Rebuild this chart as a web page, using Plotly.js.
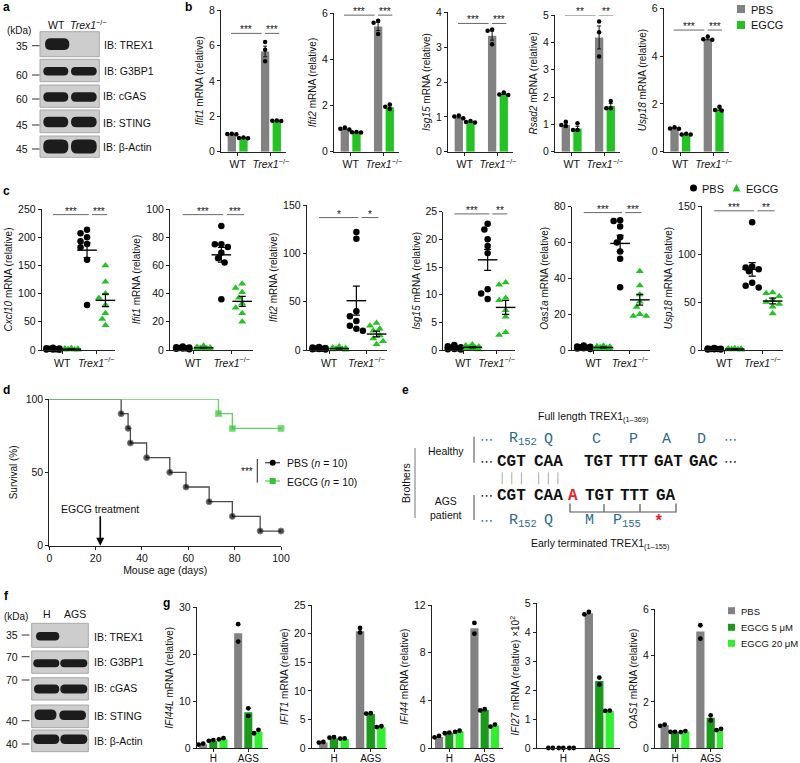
<!DOCTYPE html>
<html><head><meta charset="utf-8">
<script src="https://cdn.plot.ly/plotly-3.0.1.min.js"></script>
<style>html,body{margin:0;padding:0;background:#fff}#chart{width:800px;height:763px}</style>
</head><body><div id="chart"></div>
<script>
// ================= DATA =================
// Panel b : bar = mean, error = SEM, dots = replicates
// order inside each array: [WT PBS, WT EGCG, Trex1 PBS, Trex1 EGCG]
const bGenes = ['Ifit1', 'Ifit2', 'Isg15', 'Rsad2', 'Usp18'];
const bGroupLabels = ['WT', '<i>Trex1</i><sup>−/−</sup>'];
const bIfit1Mean = [1.0, 0.78, 5.66, 1.75];
const bIfit1Sem  = [0.02, 0.02, 0.30, 0.01];
const bIfit1Dots = [[1.01, 0.98, 1.0], [0.80, 0.77, 0.76], [6.2, 5.75, 5.1], [1.76, 1.74, 1.75]];
const bIfit2Mean = [1.0, 0.84, 5.43, 1.93];
const bIfit2Sem  = [0.03, 0.01, 0.18, 0.06];
const bIfit2Dots = [[1.05, 0.96, 1.0], [0.85, 0.83, 0.84], [5.68, 5.59, 5.1], [2.05, 1.95, 1.85]];
const bIsg15Mean = [1.0, 0.86, 3.33, 1.66];
const bIsg15Sem  = [0.03, 0.02, 0.13, 0.02];
const bIsg15Dots = [[1.04, 0.96, 1.01], [0.88, 0.84, 0.85], [3.51, 3.47, 3.08], [1.70, 1.63, 1.64]];
const bRsad2Mean = [0.98, 0.85, 4.18, 1.67];
const bRsad2Sem  = [0.07, 0.08, 0.42, 0.09];
const bRsad2Dots = [[1.10, 0.94, 0.98], [1.04, 0.79, 0.79], [4.76, 4.37, 3.48], [1.85, 1.59, 1.59]];
const bUsp18Mean = [0.98, 0.73, 4.72, 1.78];
const bUsp18Sem  = [0.02, 0.01, 0.04, 0.05];
const bUsp18Dots = [[1.02, 0.96, 0.97], [0.75, 0.72, 0.72], [4.82, 4.70, 4.68], [1.88, 1.75, 1.72]];
const bSigLabels = [['***', '***'], ['***', '***'], ['***', '***'], ['**', '**'], ['***', '***']];
const bSigLevel = [6.68, 5.92, 3.68, 5.0, 5.09];

// Panel c : individual mice, mean ± SEM ; order [WT PBS, WT EGCG, Trex1 PBS, Trex1 EGCG]
const cGenes = ['Cxcl10', 'Ifit1', 'Ifit2', 'Isg15', 'Oas1a', 'Usp18'];
const cCxcl10Dots = [[4, 3, 2.5, 2, 1.5, 1, 0.8, 0.5], [3.5, 2.5, 2, 1.5, 1, 0.8, 0.5, 0.3],
  [213, 207, 200, 193, 188, 182, 160, 80], [150, 121, 100, 92, 80, 65, 55, 44]];
const cCxcl10Mean = [1.9, 1.5, 177, 88];
const cCxcl10Sem = [0.4, 0.4, 13, 11];
const cIfit1Dots = [[2.5, 2, 1.8, 1.5, 1.2, 1, 0.8, 0.5], [3, 2.2, 1.8, 1.5, 1.2, 1, 0.8, 0.6],
  [88, 75, 75, 73, 69, 65, 62, 36], [47, 44, 41, 37, 33, 30, 26, 20]];
const cIfit1Mean = [1.4, 1.6, 67.5, 34.5];
const cIfit1Sem = [0.2, 0.3, 5.2, 3.5];
const cIfit2Dots = [[3, 2.5, 2, 1.5, 1.2, 1, 0.8, 0.5], [3.5, 2.5, 2, 1.5, 1, 0.8, 0.5, 0.3],
  [122, 115, 40, 35, 30, 25, 22, 20], [28, 25, 22, 20, 15, 12, 9, 6]];
const cIfit2Mean = [1.6, 1.5, 51, 16.5];
const cIfit2Sem = [0.3, 0.4, 15, 3];
const cIsg15Dots = [[0.9, 0.7, 0.5, 0.4, 0.3, 0.2, 0.15, 0.1], [1.0, 0.8, 0.6, 0.5, 0.4, 0.3, 0.2, 0.1],
  [22.8, 21.8, 20, 18.8, 17.5, 11, 10.2, 9.2], [12.2, 11.8, 9.4, 9, 7.2, 6, 3.2, 2.7]];
const cIsg15Mean = [0.41, 0.49, 16.3, 7.7];
const cIsg15Sem = [0.1, 0.1, 1.9, 1.25];
const cOas1aDots = [[2.5, 2, 1.8, 1.5, 1.2, 1, 0.8, 0.5], [2.4, 2.1, 1.8, 1.5, 1.2, 1, 0.8, 0.6],
  [72.5, 72, 69, 63, 60, 55, 51, 35], [44, 36, 31, 27, 24, 20, 19, 19]];
const cOas1aMean = [1.4, 1.4, 59.5, 28];
const cOas1aSem = [0.25, 0.25, 4.5, 3];
const cUsp18Dots = [[2, 1.5, 1.2, 1, 1, 0.8, 0.5, 0.5], [1.8, 1.5, 1.2, 1, 0.8, 0.6, 0.5, 0.3],
  [133, 87, 86, 84, 82, 70, 67, 65], [60, 59, 56, 52, 50, 48, 45, 38]];
const cUsp18Mean = [1.1, 1.0, 84, 51];
const cUsp18Sem = [0.2, 0.2, 7, 3];
const cSigLabels = [['***', '***'], ['***', '***'], ['*', '*'], ['***', '**'], ['***', '***'], ['***', '**']];
const cSigLevel = [240, 96, 137, 24.6, 76.7, 145];

// Panel d : Kaplan–Meier survival
const dDaysPBS = [0, 31, 34, 35, 42, 52, 59, 69, 79, 91, 100];
const dSurvPBS = [100, 90, 80, 70, 60, 50, 40, 30, 20, 10, 10];
const dDaysEGCG = [0, 73, 79, 100];
const dSurvEGCG = [100, 90, 80, 80];
const dTreatmentDay = 22;

// Panel g : order [H PBS, H EGCG5, H EGCG20, AGS PBS, AGS EGCG5, AGS EGCG20]
const gGenes = ['IFI44L', 'IFIT1', 'IFI44', 'IFI27', 'OAS1'];
const gGroupLabels = ['H', 'AGS'];
const gTreatments = ['PBS', 'EGCG 5 μM', 'EGCG 20 μM'];
const gIFI44LMean = [0.85, 1.6, 1.9, 24.5, 7.65, 3.5];
const gIFI44LDots = [[0.8, 1.0], [1.6, 1.75], [1.9, 2.15], [26.4, 22.7], [8.5, 6.9], [3.2, 3.9]];
const gIFIT1Mean = [1.0, 1.75, 1.63, 20.4, 6.0, 3.66];
const gIFIT1Dots = [[1.0, 1.1], [1.85, 1.95], [1.7, 1.72], [20.2, 21.0], [6.05, 6.12], [3.7, 3.85]];
const gIFI44Mean = [0.95, 1.28, 1.42, 10.05, 3.2, 1.9];
const gIFI44Dots = [[0.92, 1.04], [1.26, 1.32], [1.37, 1.48], [10.5, 9.6], [3.17, 3.28], [1.82, 1.99]];
const gIFI27Mean = [0.01, 0.01, 0.01, 4.66, 2.32, 1.29];
const gIFI27Dots = [[0.01, 0.01], [0.01, 0.01], [0.01, 0.01], [4.62, 4.70], [2.44, 2.2], [1.29, 1.30]];
const gOAS1Mean = [0.99, 0.71, 0.72, 5.03, 1.32, 0.81];
const gOAS1Dots = [[0.97, 1.02], [0.71, 0.71], [0.70, 0.74], [5.3, 4.72], [1.2, 1.42], [0.78, 0.84]];

// ================= STYLE / LAYOUT =================
const FONT = 'Liberation Sans, Arial, Helvetica, sans-serif';
const MONO = 'Liberation Mono, Courier New, monospace';
const GRAY = '#828282', GREEN = '#22c322', DKGREEN = '#1a9a1a', LTGREEN = '#2ef02e', TEAL = '#2b6c8c';
const W = 800, H = 763;
const fx = v => v / W, fy = v => 1 - v / H;
const traces = [], shapes = [], annotations = [];
const layout = {
  width: W, height: H, margin: {l: 0, r: 0, t: 0, b: 0}, showlegend: false, barmode: 'overlay',
  paper_bgcolor: '#fff', plot_bgcolor: 'rgba(0,0,0,0)',
  font: {family: FONT, size: 10.5, color: '#111'}, shapes, annotations, hovermode: false
};

let nAx = 0;
function axes(o) {
  nAx++;
  const s = nAx === 1 ? '' : String(nAx);
  const xa = {
    domain: [fx(o.L), fx(o.R)], anchor: 'y' + s, range: o.xr, showgrid: false, zeroline: false,
    showline: true, linecolor: '#222', linewidth: 1, ticks: 'outside', ticklen: 3, tickwidth: 1, tickcolor: '#222',
    tickfont: {size: o.xfont || 10.5, family: FONT, color: '#111'}, fixedrange: true
  };
  if (o.xstand !== undefined) xa.ticklabelstandoff = o.xstand;
  if (o.xt) { xa.tickvals = o.xt; xa.ticktext = o.xtt; xa.tickmode = 'array'; }
  else { xa.dtick = o.xdtick; xa.tick0 = 0; }
  if (o.xtitle) xa.title = {text: o.xtitle, font: {size: 10.5, family: FONT, color: '#111'}, standoff: 3};
  const ya = {
    domain: [fy(o.B), fy(o.T)], anchor: 'x' + s, range: o.yr, dtick: o.dtick, tick0: 0,
    showgrid: false, zeroline: false, showline: true, linecolor: '#222', linewidth: 1,
    ticks: 'outside', ticklen: 3, tickwidth: 1, tickcolor: '#222',
    tickfont: {size: 10.5, family: FONT, color: '#111'}, fixedrange: true,
    title: {text: o.ytitle, font: {size: 10, family: FONT, color: '#111'}, standoff: o.ystand ?? 3}
  };
  layout['xaxis' + s] = xa; layout['yaxis' + s] = ya;
  return {xa: 'x' + s, ya: 'y' + s};
}

// simple beeswarm: returns horizontal offsets (data units) so dots do not pile up
function swarm(vals, pxPerY, pxPerX, diam) {
  const placed = [], offs = vals.map(() => 0);
  const order = vals.map((v, i) => i).sort((a, b) => vals[b] - vals[a]);
  const cand = [0, -1, 1, -2, 2];
  for (const i of order) {
    const y = vals[i] * pxPerY;
    let best = 0, bestD = -1;
    for (const c of cand) {
      const x = c * diam * 0.5;
      const d = placed.length ? Math.min(...placed.map(p => Math.hypot(p.x - x, p.y - y))) : 1e9;
      if (d >= diam * 0.95) { best = x; bestD = 1e9; break; }
      if (d > bestD) { bestD = d; best = x; }
    }
    placed.push({x: best, y}); offs[i] = best / pxPerX;
  }
  return offs;
}

function sig(ax, y, x0, x1, text) {
  shapes.push({type: 'line', xref: ax.xa, yref: ax.ya, x0, x1, y0: y, y1: y, line: {color: '#666666', width: 1}});
  annotations.push({xref: ax.xa, yref: ax.ya, x: (x0 + x1) / 2, y, text, showarrow: false, yanchor: 'bottom',
    yshift: -4, font: {size: 10, family: FONT, color: '#111'}});
}
function txt(x, y, text, o = {}) {
  const font = Object.assign({family: FONT, size: 10, color: '#111'}, o.font || {});
  const a = Object.assign({xref: 'paper', yref: 'paper', x: fx(x), y: fy(y), text, showarrow: false,
    xanchor: 'center', yanchor: 'middle'}, o);
  a.font = font; annotations.push(a);
}
function lineP(x0, y0, x1, y1, color = '#333', width = 1) {
  shapes.push({type: 'line', xref: 'paper', yref: 'paper', x0: fx(x0), y0: fy(y0), x1: fx(x1), y1: fy(y1), line: {color, width}});
}
function rectP(x0, y0, x1, y1, fill, lineColor = 'rgba(0,0,0,0)', lw = 0) {
  shapes.push({type: 'rect', xref: 'paper', yref: 'paper', x0: fx(x0), y0: fy(y0), x1: fx(x1), y1: fy(y1),
    fillcolor: fill, line: {color: lineColor, width: lw}});
}
function band(x0, y0, x1, y1, fill = '#1c1c1c') {
  const r = Math.min((y1 - y0) / 2, 6);
  const P = (x, y) => fx(x) + ',' + fy(y);
  const path = 'M' + P(x0 + r, y0) + 'L' + P(x1 - r, y0) + 'Q' + P(x1, y0) + ' ' + P(x1, y0 + r) +
    'L' + P(x1, y1 - r) + 'Q' + P(x1, y1) + ' ' + P(x1 - r, y1) + 'L' + P(x0 + r, y1) +
    'Q' + P(x0, y1) + ' ' + P(x0, y1 - r) + 'L' + P(x0, y0 + r) + 'Q' + P(x0, y0) + ' ' + P(x0 + r, y0) + 'Z';
  shapes.push({type: 'path', xref: 'paper', yref: 'paper', path, fillcolor: fill, line: {width: 0}});
}

// ---------- panel b ----------
const bMeans = [bIfit1Mean, bIfit2Mean, bIsg15Mean, bRsad2Mean, bUsp18Mean];
const bSems = [bIfit1Sem, bIfit2Sem, bIsg15Sem, bRsad2Sem, bUsp18Sem];
const bDots = [bIfit1Dots, bIfit2Dots, bIsg15Dots, bRsad2Dots, bUsp18Dots];
const bPanel = [{L: 221, T: 10, ymax: 8, dtick: 2}, {L: 334, T: 13.3, ymax: 6, dtick: 2},
  {L: 448, T: 12.3, ymax: 4, dtick: 1}, {L: 555, T: 15, ymax: 5, dtick: 1}, {L: 663.7, T: 8.3, ymax: 6, dtick: 2}];
const B_UNIT = 33.3, B_BOTTOM = 151.7, B_OFF = 0.175, B_W = 0.25;
bGenes.forEach((g, k) => {
  const p = bPanel[k];
  const ax = axes({L: p.L, R: p.L + 1.95 * B_UNIT, T: p.T, B: B_BOTTOM, xr: [-0.5, 1.45], yr: [0, p.ymax],
    dtick: p.dtick, xt: [0, 1], xtt: bGroupLabels, ytitle: `<i>${g}</i> mRNA (relative)`});
  const pxY = (B_BOTTOM - p.T) / p.ymax;
  const pos = i => (i >> 1) + ((i & 1) ? B_OFF : -B_OFF);
  [0, 1].forEach(t => {
    const idx = [t, 2 + t];
    traces.push({type: 'bar', x: idx.map(pos), y: idx.map(i => bMeans[k][i]), width: B_W,
      marker: {color: t ? GREEN : GRAY, line: {width: 0}},
      error_y: {type: 'data', array: idx.map(i => bSems[k][i]), visible: true, color: '#111', thickness: 1, width: 2},
      xaxis: ax.xa, yaxis: ax.ya, hoverinfo: 'skip'});
  });
  const dx = [], dy = [];
  bDots[k].forEach((vals, i) => {
    const offs = swarm(vals, pxY, B_UNIT, 4.5);
    vals.forEach((v, j) => { dx.push(pos(i) + offs[j]); dy.push(v); });
  });
  traces.push({type: 'scatter', mode: 'markers', x: dx, y: dy, marker: {color: '#000', size: 4.5},
    cliponaxis: false, xaxis: ax.xa, yaxis: ax.ya, hoverinfo: 'skip'});
  sig(ax, bSigLevel[k], -0.2, 0.72, bSigLabels[k][0]);
  sig(ax, bSigLevel[k], 0.82, 1.25, bSigLabels[k][1]);
});
// legend b
rectP(737, 5, 745, 13, GRAY); rectP(737, 21, 745, 29, GREEN);
txt(748.5, 9.5, 'PBS', {xanchor: 'left', font: {size: 11}});
txt(748.5, 25.5, 'EGCG', {xanchor: 'left', font: {size: 11}});

// ---------- panel c ----------
const cDots = [cCxcl10Dots, cIfit1Dots, cIfit2Dots, cIsg15Dots, cOas1aDots, cUsp18Dots];
const cMeans = [cCxcl10Mean, cIfit1Mean, cIfit2Mean, cIsg15Mean, cOas1aMean, cUsp18Mean];
const cSems = [cCxcl10Sem, cIfit1Sem, cIfit2Sem, cIsg15Sem, cOas1aSem, cUsp18Sem];
const cPanel = [{L: 41.7, R: 115, T: 209, ymax: 250, dtick: 50}, {L: 170, R: 253, T: 209, ymax: 100, dtick: 20},
  {L: 306.7, R: 387, T: 205, ymax: 150, dtick: 50}, {L: 443.3, R: 515, T: 211.7, ymax: 25, dtick: 5},
  {L: 571.7, R: 650, T: 206.7, ymax: 80, dtick: 20}, {L: 701.7, R: 783.3, T: 206, ymax: 150, dtick: 50}];
const C_BOTTOM = 350, C_OFF = 0.27, C_XR = [-0.6, 1.55];
cGenes.forEach((g, k) => {
  const p = cPanel[k];
  const ax = axes({L: p.L, R: p.R, T: p.T, B: C_BOTTOM, xr: C_XR, yr: [0, p.ymax], dtick: p.dtick,
    xt: [0, 1], xtt: bGroupLabels, ytitle: `<i>${g}</i> mRNA (relative)`});
  const pxY = (C_BOTTOM - p.T) / p.ymax, pxX = (p.R - p.L) / (C_XR[1] - C_XR[0]);
  const pos = i => (i >> 1) + ((i & 1) ? C_OFF : -C_OFF);
  [0, 1].forEach(t => {
    const dx = [], dy = [];
    [t, 2 + t].forEach(i => {
      const offs = swarm(cDots[k][i], pxY, pxX, 6.5);
      cDots[k][i].forEach((v, j) => { dx.push(pos(i) + offs[j]); dy.push(v); });
    });
    traces.push({type: 'scatter', mode: 'markers', x: dx, y: dy, cliponaxis: false,
      marker: t ? {color: GREEN, size: 7, symbol: 'triangle-up'} : {color: '#000', size: 6.5, symbol: 'circle'},
      xaxis: ax.xa, yaxis: ax.ya, hoverinfo: 'skip'});
  });
  const idx = [0, 1, 2, 3];
  traces.push({type: 'scatter', mode: 'markers', x: idx.map(pos), y: idx.map(i => cMeans[k][i]), cliponaxis: false,
    marker: {symbol: 'line-ew-open', size: 14, color: '#000', line: {width: 1.4, color: '#000'}},
    error_y: {type: 'data', array: idx.map(i => cSems[k][i]), visible: true, color: '#000', thickness: 1.2, width: 3.5},
    xaxis: ax.xa, yaxis: ax.ya, hoverinfo: 'skip'});
  sig(ax, cSigLevel[k], -0.27, 0.78, cSigLabels[k][0]);
  sig(ax, cSigLevel[k], 0.87, 1.32, cSigLabels[k][1]);
});
// legend c
shapes.push({type: 'circle', xref: 'paper', yref: 'paper', x0: fx(690), x1: fx(697), y0: fy(184.5), y1: fy(191.5), fillcolor: '#000', line: {width: 0}});
shapes.push({type: 'path', xref: 'paper', yref: 'paper', path: `M${fx(732.5)},${fy(191.5)}L${fx(740.5)},${fy(191.5)}L${fx(736.5)},${fy(184)}Z`, fillcolor: GREEN, line: {width: 0}});
txt(700, 188.5, 'PBS', {xanchor: 'left', font: {size: 11}});
txt(743.5, 188.5, 'EGCG', {xanchor: 'left', font: {size: 11}});

// ---------- panel d ----------
{
  const ax = axes({L: 49.3, R: 281, T: 399, B: 545.7, xr: [0, 100], yr: [0, 100], dtick: 50, xdtick: 20,
    ytitle: 'Survival (%)', xtitle: 'Mouse age (days)', ystand: 6});
  traces.push({type: 'scatter', mode: 'lines+markers', x: dDaysPBS, y: dSurvPBS, cliponaxis: false,
    line: {shape: 'hv', color: '#4a4a4a', width: 1.3},
    marker: {color: '#000', size: dDaysPBS.map((d, i) => i === 0 ? 0 : 6)}, xaxis: ax.xa, yaxis: ax.ya, hoverinfo: 'skip'});
  traces.push({type: 'scatter', mode: 'lines+markers', x: dDaysEGCG, y: dSurvEGCG, cliponaxis: false,
    line: {shape: 'hv', color: '#66d066', width: 1.3},
    marker: {color: '#2ec42e', symbol: 'square', size: dDaysEGCG.map((d, i) => i === 0 ? 0 : 6)}, xaxis: ax.xa, yaxis: ax.ya, hoverinfo: 'skip'});
  annotations.push({xref: ax.xa, yref: ax.ya, x: dTreatmentDay, y: 0, ax: 0, ay: -37, text: 'EGCG treatment',
    showarrow: true, arrowhead: 2, arrowsize: 1, arrowwidth: 1.6, arrowcolor: '#000', font: {size: 10.5, family: FONT, color: '#111'}});
  // legend d
  lineP(265, 462.7, 280, 462.7, '#4a4a4a', 1.3);
  shapes.push({type: 'circle', xref: 'paper', yref: 'paper', x0: fx(269.7), x1: fx(275.7), y0: fy(459.7), y1: fy(465.7), fillcolor: '#000', line: {width: 0}});
  lineP(265, 481, 280, 481, '#66d066', 1.3);
  rectP(269.7, 478, 275.7, 484, '#2ec42e');
  txt(284.5, 463, 'PBS (<i>n</i> = 10)', {xanchor: 'left', font: {size: 10.5}});
  txt(284.5, 481.5, 'EGCG (<i>n</i> = 10)', {xanchor: 'left', font: {size: 10.5}});
  txt(246.5, 471, '***', {font: {size: 10}});
  lineP(257.3, 459, 257.3, 482.7, '#222', 1);
}

// ---------- panel g ----------
const gMeans = [gIFI44LMean, gIFIT1Mean, gIFI44Mean, gIFI27Mean, gOAS1Mean];
const gDots = [gIFI44LDots, gIFIT1Dots, gIFI44Dots, gIFI27Dots, gOAS1Dots];
const gPanel = [{L: 196.7, g0: 213.3, unit: 35, R: 268, T: 607.3, ymax: 30, dtick: 10},
  {L: 311.7, g0: 334, unit: 36.7, R: 387, T: 605, ymax: 25, dtick: 5},
  {L: 431.7, g0: 449.3, unit: 35.4, R: 503, T: 605, ymax: 12, dtick: 4},
  {L: 536.7, g0: 563.3, unit: 36, R: 620, T: 603.3, ymax: 5, dtick: 1},
  {L: 655, g0: 675, unit: 35.7, R: 723, T: 609, ymax: 6, dtick: 2}];
const G_BOTTOM = 748.3, G_OFF = 0.29, G_W = 0.23, gColors = [GRAY, DKGREEN, LTGREEN];
gGenes.forEach((g, k) => {
  const p = gPanel[k];
  const xr = [(p.L - p.g0) / p.unit, (p.R - p.g0) / p.unit];
  const title = k === 3 ? `<i>${g}</i> mRNA (relative) ×10<sup>2</sup>` : `<i>${g}</i> mRNA (relative)`;
  const ax = axes({L: p.L, R: p.R, T: p.T, B: G_BOTTOM, xr, yr: [0, p.ymax], dtick: p.dtick,
    xt: [0, 1], xtt: gGroupLabels, ytitle: title, xfont: 10, xstand: -2});
  const pxY = (G_BOTTOM - p.T) / p.ymax;
  const pos = i => Math.floor(i / 3) + ((i % 3) - 1) * G_OFF;
  [0, 1, 2].forEach(t => {
    const idx = [t, 3 + t];
    traces.push({type: 'bar', x: idx.map(pos), y: idx.map(i => gMeans[k][i]), width: G_W,
      marker: {color: gColors[t], line: {width: 0}}, xaxis: ax.xa, yaxis: ax.ya, hoverinfo: 'skip'});
  });
  const dx = [], dy = [];
  gDots[k].forEach((vals, i) => {
    const offs = swarm(vals, pxY, p.unit, 4.5);
    vals.forEach((v, j) => { dx.push(pos(i) + offs[j]); dy.push(v); });
  });
  traces.push({type: 'scatter', mode: 'markers', x: dx, y: dy, marker: {color: '#000', size: 4.8},
    cliponaxis: false, xaxis: ax.xa, yaxis: ax.ya, hoverinfo: 'skip'});
});
// legend g
[610.7, 627.3, 643.3].forEach((y, i) => {
  rectP(728, y - 3.5, 735, y + 3.5, gColors[i]);
  txt(738.5, y + 0.5, gTreatments[i], {xanchor: 'left', font: {size: 9.5}});
});

// ---------- western blots (panels a, f) ----------
function blot(boxes, bands, boxX0, boxX1) {
  boxes.forEach(([y0, y1]) => rectP(boxX0, y0, boxX1, y1, '#cdcdcd', '#a8a8a8', 1));
  bands.forEach(b => band(...b));
}
// a
blot([[31.7, 56.7], [59.3, 81.7], [85, 107.3], [110, 132.7], [136, 157.3]],
  [[45, 38.3, 69.3, 50], [43.3, 67, 68.3, 75.5], [71, 67, 96.7, 75.5], [43.3, 92.3, 68.3, 101.7], [71, 92.3, 96.7, 101.7],
   [43.3, 116.7, 68.3, 127.3], [71, 116.7, 96.7, 127.3], [43.3, 139.5, 68.3, 153.5], [71, 139.5, 96.7, 153.5]], 40, 99.3);
txt(18.5, 30.5, '(kDa)', {font: {size: 10}});
txt(56.5, 25, 'WT', {font: {size: 10.5}});
txt(88.5, 24.5, '<i>Trex1</i><sup>−/−</sup>', {font: {size: 10.5}});
[['35', 45.7], ['60', 75], ['60', 99], ['45', 125], ['45', 149]].forEach(([t, y]) => {
  txt(29.5, y, t, {xanchor: 'right', font: {size: 10.5}}); lineP(32, y, 39.5, y, '#333', 1);
});
['IB: TREX1', 'IB: G3BP1', 'IB: cGAS', 'IB: STING', 'IB: β-Actin'].forEach((t, i) =>
  txt(101.5, [45, 70.7, 96, 122.7, 146.7][i], t, {xanchor: 'left', font: {size: 10.5}}));
// f
blot([[623.3, 647.3], [651, 673.3], [677.7, 700], [705, 727.7], [730, 751.7]],
  [[36, 632, 59.3, 640.5], [33.3, 659.3, 59.3, 667.3], [60.3, 659.3, 87.3, 667.3], [34, 684.5, 59.3, 693.5], [60.3, 684.5, 87.3, 693.5],
   [34.5, 709.5, 56.5, 720], [59.3, 710.5, 86, 720], [33.3, 734.5, 59.3, 744], [60.3, 734.5, 87.3, 744]], 31.7, 88.3);
txt(15.5, 616, '(kDa)', {font: {size: 10}});
txt(46.7, 614, 'H', {font: {size: 10.5}});
txt(75, 614, 'AGS', {font: {size: 10.5}});
[['35', 635], ['70', 656.7], ['70', 680], ['40', 720.7], ['40', 744]].forEach(([t, y]) => {
  txt(19.5, y, t, {xanchor: 'right', font: {size: 10.5}}); lineP(21.7, y, 29.5, y, '#333', 1);
});
['IB: TREX1', 'IB: G3BP1', 'IB: cGAS', 'IB: STING', 'IB: β-Actin'].forEach((t, i) =>
  txt(91.5, [636.7, 661.7, 688.3, 716, 740.7][i], t, {xanchor: 'left', font: {size: 10.5}}));

// ---------- panel e (sequence diagram) ----------
txt(593.3, 416.7, 'Full length TREX1<sub>(1–369)</sub>', {font: {size: 10.5}});
txt(599.7, 544, 'Early terminated TREX1<sub>(1–155)</sub>', {font: {size: 10.5}});
const aa = (x, y, t, c = TEAL) => txt(x, y, t, {font: {family: MONO, size: 15, color: c}});
const nt = (x, y, t, c = '#111') => txt(x, y, t, {font: {family: MONO, size: 16, color: c, weight: 'bold'}});
const dots = (x, y, c) => txt(x, y, '⋯', {font: {family: 'DejaVu Sans', size: 13, color: c}});
// healthy
dots(486, 439.3, TEAL); aa(523, 439.3, 'R<sub>152</sub>'); aa(548.3, 439.3, 'Q'); aa(596.7, 439.3, 'C');
aa(633.3, 439.3, 'P'); aa(666.7, 439.3, 'A'); aa(701.7, 439.3, 'D'); dots(730, 439.3, TEAL);
dots(486, 461.7, '#111'); nt(511.8, 461.7, 'CGT'); nt(548.3, 461.7, 'CAA'); nt(598.3, 461.7, 'TGT');
nt(633.3, 461.7, 'TTT'); nt(668.7, 461.7, 'GAT'); nt(703.7, 461.7, 'GAC'); dots(730, 461.7, '#111');
[502.2, 511.8, 521.4, 538.7, 548.3, 557.9].forEach(x => lineP(x, 472.3, x, 484.3, '#aaa', 1));
// patient
dots(486, 495.7, '#111'); nt(511.8, 495.7, 'CGT'); nt(548.3, 495.7, 'CAA'); nt(572.7, 495.7, 'A', '#e8202a');
nt(599.5, 495.7, 'TGT'); nt(634, 495.7, 'TTT'); nt(665.7, 495.7, 'GA');
shapes.push({type: 'path', xref: 'paper', yref: 'paper', line: {color: '#555', width: 1.2},
  path: `M${fx(570)},${fy(503.5)}L${fx(570)},${fy(512)}L${fx(676)},${fy(512)}L${fx(676)},${fy(503.5)}`});
lineP(604, 504, 604, 512, '#555', 1.2); lineP(640, 504, 640, 512, '#555', 1.2);
dots(486, 520.7, TEAL); aa(523, 520.7, 'R<sub>152</sub>'); aa(548.3, 520.7, 'Q'); aa(589, 520.7, 'M');
aa(626.7, 520.7, 'P<sub>155</sub>'); txt(659, 521.5, '*', {font: {family: MONO, size: 16, color: '#e8202a', weight: 'bold'}});
txt(446, 451, 'Healthy', {font: {size: 10.5}});
txt(446, 507.5, 'AGS<br>patient', {font: {size: 10.5}});
lineP(474, 436.7, 474, 462.7, '#444', 1); lineP(474, 495, 474, 520, '#444', 1);
lineP(415, 448, 415, 518, '#777', 1);
txt(406, 483, 'Brothers', {textangle: -90, font: {size: 10.5}});

// ---------- panel letters ----------
[['a', 6, 7], ['b', 188.5, 7], ['c', 6, 191], ['d', 6, 390], ['e', 406, 390], ['f', 6, 596], ['g', 166, 603]]
  .forEach(([t, x, y]) => txt(x, y, t, {font: {size: 12, weight: 'bold', color: '#000'}}));

Plotly.newPlot('chart', traces, layout, {staticPlot: true, displayModeBar: false});
</script></body></html>
